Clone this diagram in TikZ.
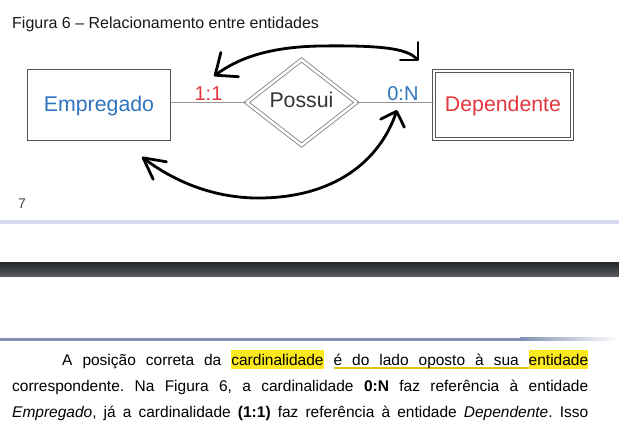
\documentclass[tikz,border=0pt]{standalone}
\usepackage{fontspec}
\setmainfont{Liberation Sans}
\usepackage{tikz}
\usetikzlibrary{positioning, shapes.geometric, arrows.meta}
\frenchspacing

\definecolor{entblue}{RGB}{46,117,190}
\definecolor{entred}{RGB}{226,56,62}
\definecolor{boxgray}{RGB}{85,85,85}
\definecolor{diagray}{RGB}{135,135,135}
\definecolor{linkgray}{RGB}{150,150,150}
\definecolor{numgray}{RGB}{70,70,70}
\definecolor{hlyellow}{RGB}{252,232,30}
\definecolor{ulgold}{RGB}{228,196,20}
\definecolor{barTop}{RGB}{38,40,42}
\definecolor{barBot}{RGB}{86,90,94}
\definecolor{footlight}{RGB}{214,218,236}
\definecolor{footdark}{RGB}{108,120,176}
\definecolor{headline}{RGB}{130,144,178}

\newcommand{\figtitlefont}{\fontsize{16}{19}\selectfont}
\newcommand{\entfont}{\fontsize{21.3}{24}\selectfont}
\newcommand{\cardfont}{\fontsize{20}{23}\selectfont}
\newcommand{\bodyfont}{\fontsize{15.5}{18}\selectfont}

% yellow marker and gold underline for the paragraph
\newcommand{\marktext}[1]{\setbox0=\hbox{#1}\rlap{\color{hlyellow}\rule[-4pt]{\wd0}{19pt}}\box0\relax}
\newcommand{\ulword}[1]{\setbox0=\hbox{#1}\rlap{\color{ulgold}\rule[-3.6pt]{\wd0}{1.3pt}}\box0\relax}
\newcommand{\ulspace}{{\color{ulgold}\leaders\hrule height -2.3pt depth 3.6pt\hskip\fontdimen2\font plus \fontdimen3\font minus \fontdimen4\font}}

\begin{document}
\begin{tikzpicture}[x=1pt, y=-1pt,
    entity/.style={draw=boxgray, line width=1pt, inner sep=0pt, font=\entfont, text height=16pt, text depth=2pt},
    relation/.style={diamond, draw=diagray, line width=0.9pt, double, double distance=2.5pt, inner sep=0pt, font=\entfont, text=black!80, text height=14pt, text depth=3pt},
    link/.style={draw=linkgray, line width=1.5pt},
    card/.style={font=\cardfont, inner sep=0pt, above=1pt},
    scribble/.style={line width=2.8pt, line cap=round, line join=round},
    textline/.style={anchor=base west, inner sep=0pt, font=\bodyfont}]

  \fill[white] (0,0) rectangle (619,433);
  \useasboundingbox (0,0) rectangle (619,433);

  % Caption
  \node[anchor=base west, inner sep=0pt, font=\figtitlefont, text=black!90] (title) at (12,29) {Figura 6 – Relacionamento entre entidades};

  % Entities and relationship
  \node[entity, minimum width=143pt, minimum height=71pt, text=entblue] (emp) at (99,105) {Empregado};
  \node[relation, minimum width=110pt, minimum height=85.6pt] (pos) at (301.5,102.5) {Possui};
  \node[entity, double, double distance=2.3pt, minimum width=138pt, minimum height=67.5pt, text=entred] (dep) at (503,105) {Dependente};

  \draw[link] (pos.west) -- node[card, text=entred] (c11) {1:1} (pos.west -| emp.east);
  \draw[link] (pos.east) -- node[card, pos=0.6, text=entblue] (c0n) {0:N} (pos.east -| dep.west);

  % Hand drawn arrows
  \coordinate (ta) at (214,76);
  \coordinate (tb) at (419,61);
  \coordinate (ba) at (142,157);
  \coordinate (bb) at (397,110);
  \draw[scribble, {Straight Barb[length=18pt, width=30pt, round]}-{Straight Barb[length=12.5pt, width=25pt, round]}]
    (ta) .. controls (236,60) and (265,47) .. (320,46) .. controls (390,45) and (408,50) .. (tb);
  \draw[scribble, {Straight Barb[length=21pt, width=22pt, round]}-{Straight Barb[length=12.5pt, width=25pt, round]}]
    (ba) .. controls (167,176) and (205,197) .. (255,198) .. controls (335,199) and (380,160) .. (bb);

  % Page number and page break
  \node[anchor=base west, inner sep=0pt, font=\fontsize{14}{16}\selectfont, text=numgray] (pagenum) at (18,208) {7};
  \shade[left color=footlight, middle color=footdark, right color=footlight] (0,221) rectangle (619,223.5);
  \shade[top color=barTop, bottom color=barBot] (0,262) rectangle (619,276);
  \fill[headline] (0,337.5) rectangle (520,340.5);
  \shade[left color=headline, right color=white] (520,337.5) rectangle (619,340.5);

  % Paragraph
  \node[textline] (line1) at (62,365) {\makebox[526pt][s]{A posição correta da \marktext{cardinalidade} \ulword{é}\ulspace\ulword{do}\ulspace\ulword{lado}\ulspace\ulword{oposto}\ulspace\ulword{à}\ulspace\ulword{sua}\ulspace\marktext{entidade}}};
  \node[textline] (line2) at (12,391) {\makebox[576pt][s]{correspondente. Na Figura 6, a cardinalidade \textbf{0:N} faz referência à entidade}};
  \node[textline] (line3) at (12,417) {\makebox[576pt][s]{\textit{Empregado}, já a cardinalidade \textbf{(1:1)} faz referência à entidade \textit{Dependente}. Isso}};
\end{tikzpicture}
\end{document}
